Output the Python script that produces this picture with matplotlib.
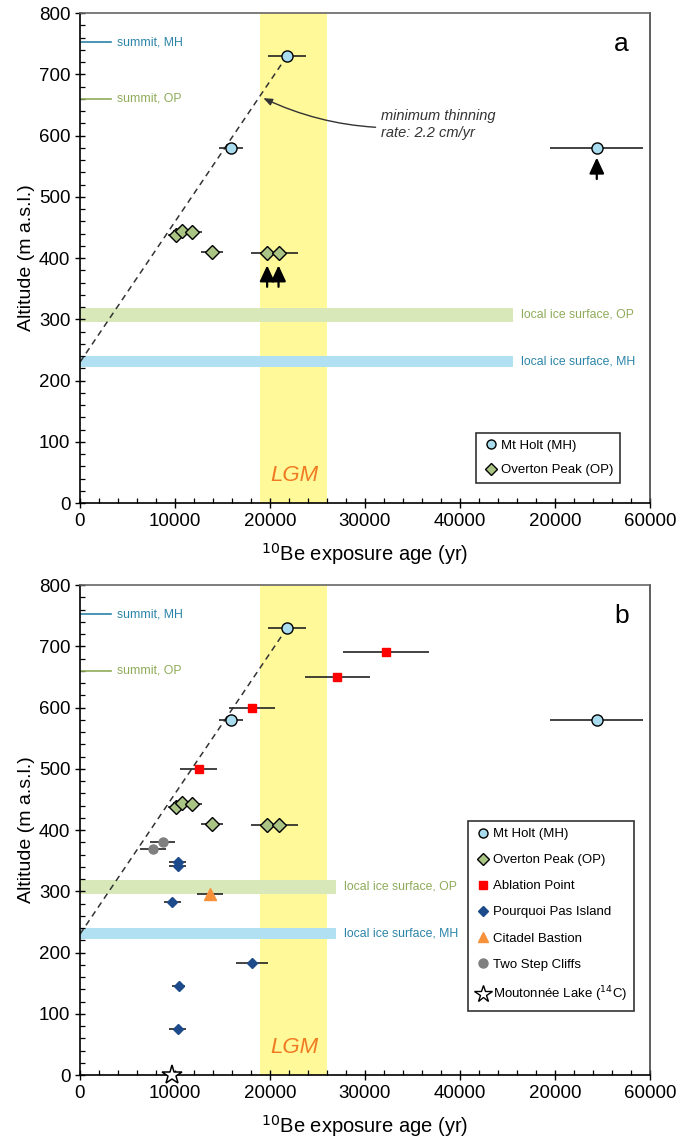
import matplotlib.pyplot as plt
from matplotlib.ticker import MultipleLocator
from matplotlib.lines import Line2D

plt.rcParams['font.family'] = ['Liberation Sans', 'DejaVu Sans']

# ---- data (age yr, err, altitude m) ----
mh_age = [21800, 15900, 54400]
mh_err = [2000, 1300, 4900]
mh_alt = [730, 580, 580]

op_age = [10100, 10700, 11800, 13900, 19700, 20900]
op_err = [800, 900, 1000, 1200, 1700, 2000]
op_alt = [438, 444, 443, 410, 409, 409]

ap_age = [32200, 27100, 18100, 12500]
ap_err = [4500, 3400, 2450, 1950]
ap_alt = [690, 650, 600, 500]

pp_age = [10300, 10300, 9700, 18100, 10400, 10300]
pp_err = [900, 900, 900, 1650, 700, 900]
pp_alt = [348, 342, 283, 183, 145, 75]

cb_age = [13700]
cb_err = [1400]
cb_alt = [296]

ts_age = [7700, 8700]
ts_err = [1400, 1350]
ts_alt = [369, 380]

ml_age = [9700]
ml_alt = [0]

lgm = (19000, 26000)
ice_op = (296, 318)
ice_mh = (222, 240)
summit_mh = 752
summit_op = 660
thin_x = [0, 21800]
thin_y = [230, 730]

xticks = [0, 10000, 20000, 30000, 40000, 50000, 60000]
xticklabels = ['0', '10000', '20000', '30000', '40000', '20000', '60000']

c_mh = '#a9dcee'
c_op = '#aac483'
c_red = '#ff0000'
c_pp = '#1d4a8a'
c_cb = '#f7923a'
c_ts = '#7f7f7f'
c_txt_mh = '#2b84a8'
c_txt_op = '#8eab58'

fig = plt.figure(figsize=(6.86, 11.44), dpi=100)
ax_a = fig.add_axes([0.1166, 0.5603, 0.8309, 0.4283])
ax_b = fig.add_axes([0.1166, 0.0603, 0.8309, 0.4283])


def base(ax, band_end, label):
    ax.set_xlim(0, 60000)
    ax.set_ylim(0, 800)
    ax.axvspan(lgm[0], lgm[1], color='#fff99a', zorder=0, lw=0)
    ax.fill_between([0, band_end], ice_op[0], ice_op[1], color='#d8e8b9', lw=0, zorder=1)
    ax.fill_between([0, band_end], ice_mh[0], ice_mh[1], color='#b0e0f2', lw=0, zorder=1)
    ax.text(band_end + 800, sum(ice_op) / 2, 'local ice surface, OP', color=c_txt_op,
            fontsize=8.8, va='center')
    ax.text(band_end + 800, sum(ice_mh) / 2, 'local ice surface, MH', color=c_txt_mh,
            fontsize=8.8, va='center')
    ax.plot([0, 3300], [summit_mh, summit_mh], color=c_txt_mh, lw=1.2, zorder=2)
    ax.plot([0, 3300], [summit_op, summit_op], color=c_txt_op, lw=1.2, zorder=2)
    ax.text(3900, summit_mh, 'summit, MH', color=c_txt_mh, fontsize=8.8, va='center')
    ax.text(3900, summit_op, 'summit, OP', color=c_txt_op, fontsize=8.8, va='center')
    ax.plot(thin_x, thin_y, ls=(0, (4, 3)), color='#333333', lw=1.1, zorder=2)
    ax.text(22600, 36, 'LGM', color='#f07a22', fontsize=16, style='italic', ha='center')
    ax.text(57000, 750, label, fontsize=19, ha='center', va='center')

    ax.set_xticks(xticks)
    ax.set_xticklabels(xticklabels)
    ax.xaxis.set_minor_locator(MultipleLocator(2000))
    ax.yaxis.set_major_locator(MultipleLocator(100))
    ax.yaxis.set_minor_locator(MultipleLocator(20))
    ax.tick_params(which='major', direction='inout', length=7, width=1, labelsize=13.5)
    ax.tick_params(which='minor', direction='in', length=3.5, width=0.9)
    ax.set_xlabel('$^{10}$Be exposure age (yr)', fontsize=14.5, labelpad=8)
    ax.set_ylabel('Altitude (m a.s.l.)', fontsize=14, labelpad=3)
    ax.spines['top'].set_color('#666666')
    ax.spines['right'].set_color('#444444')
    for s in ax.spines.values():
        s.set_linewidth(1.2)


def ebar(ax, x, y, xe, marker, fc, ms, ec='black', mew=1.0):
    ax.errorbar(x, y, xerr=xe, fmt=marker, color='black', ecolor='#222222', elinewidth=1.2,
                capsize=0, ms=ms, mfc=fc, mec=ec, mew=mew, zorder=5)


# ---- panel a ----
base(ax_a, 45600, 'a')
ebar(ax_a, mh_age, mh_alt, mh_err, 'o', c_mh, 8)
ebar(ax_a, op_age, op_alt, op_err, 'D', c_op, 7)
for xa, ya in [(19700, 353), (20900, 353), (54400, 529)]:
    ax_a.annotate('', xy=(xa, ya + 35), xytext=(xa, ya),
                  arrowprops=dict(arrowstyle='-|>,head_width=0.28,head_length=0.6',
                                  mutation_scale=16, shrinkA=0, shrinkB=0,
                                  color='black', lw=1.6))
ax_a.annotate('minimum thinning\nrate: 2.2 cm/yr', xy=(19300, 661), xytext=(31700, 618),
              fontsize=10.5, style='italic', color='#333333', va='center',
              arrowprops=dict(arrowstyle='-|>,head_width=0.2,head_length=0.5',
                              color='#333333', lw=1.0,
                              connectionstyle='arc3,rad=-0.15', shrinkA=2, shrinkB=0))
h_a = [Line2D([], [], marker='o', ls='', mfc=c_mh, mec='black', ms=6.5),
       Line2D([], [], marker='D', ls='', mfc=c_op, mec='black', ms=6)]
leg = ax_a.legend(h_a, ['Mt Holt (MH)', 'Overton Peak (OP)'], loc='lower right',
                  bbox_to_anchor=(0.948, 0.04), fontsize=9.5, frameon=True, fancybox=False,
                  edgecolor='black', handletextpad=0.2, borderpad=0.55, labelspacing=0.9,
                  handlelength=1.1, borderaxespad=0)
leg.get_frame().set_linewidth(1.2)

# ---- panel b ----
base(ax_b, 27000, 'b')
ebar(ax_b, mh_age, mh_alt, mh_err, 'o', c_mh, 8)
ebar(ax_b, op_age, op_alt, op_err, 'D', c_op, 7)
ebar(ax_b, ap_age, ap_alt, ap_err, 's', c_red, 6, ec=c_red)
ebar(ax_b, pp_age, pp_alt, pp_err, 'D', c_pp, 5.5, ec=c_pp)
ebar(ax_b, cb_age, cb_alt, cb_err, '^', c_cb, 9, ec=c_cb)
ebar(ax_b, ts_age, ts_alt, ts_err, 'o', c_ts, 6.5, ec=c_ts)
ax_b.plot(ml_age, ml_alt, marker='*', ls='', ms=15, mfc='white', mec='black', mew=1.1,
          zorder=6, clip_on=False)
h_b = [Line2D([], [], marker='o', ls='', mfc=c_mh, mec='black', ms=6.5),
       Line2D([], [], marker='D', ls='', mfc=c_op, mec='black', ms=6),
       Line2D([], [], marker='s', ls='', mfc=c_red, mec=c_red, ms=5.5),
       Line2D([], [], marker='D', ls='', mfc=c_pp, mec=c_pp, ms=5.5),
       Line2D([], [], marker='^', ls='', mfc=c_cb, mec=c_cb, ms=7.5),
       Line2D([], [], marker='o', ls='', mfc=c_ts, mec=c_ts, ms=6.5),
       Line2D([], [], marker='*', ls='', mfc='white', mec='black', ms=13)]
labels_b = ['Mt Holt (MH)', 'Overton Peak (OP)', 'Ablation Point', 'Pourquoi Pas Island',
            'Citadel Bastion', 'Two Step Cliffs', 'Moutonnée Lake ($^{14}$C)']
leg = ax_b.legend(h_b, labels_b, loc='lower right', bbox_to_anchor=(0.972, 0.13),
                  fontsize=9.5, frameon=True, fancybox=False, edgecolor='black',
                  handletextpad=0.2, borderpad=0.55, labelspacing=1.05, handlelength=1.1,
                  borderaxespad=0)
leg.get_frame().set_linewidth(1.2)

fig.savefig('out.png', dpi=100)
